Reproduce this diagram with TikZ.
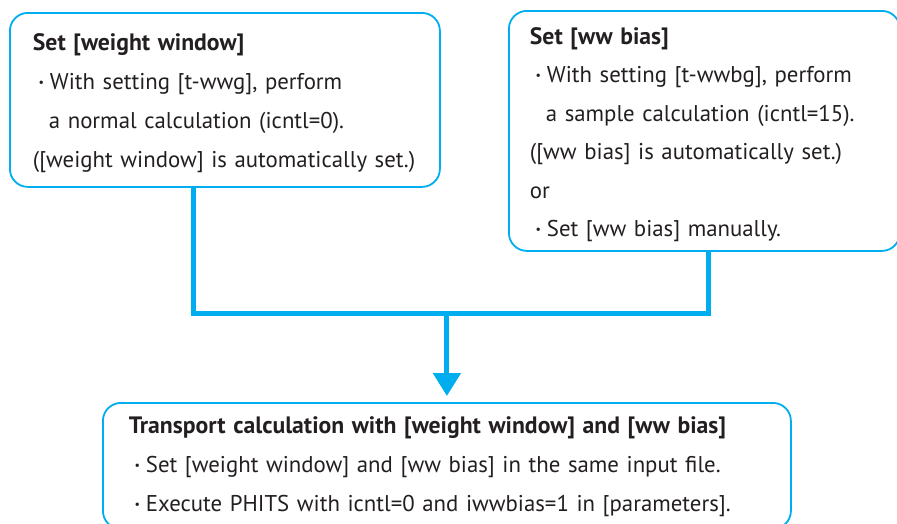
\documentclass[tikz,border=0pt]{standalone}
\usepackage{fontspec}
\setmainfont{PT Sans}
\usepackage{tikz}
\usetikzlibrary{arrows.meta,positioning,calc}
\definecolor{flow}{HTML}{00AEEF}
\definecolor{ink}{HTML}{231F20}
\newcommand{\bul}{\makebox[17pt][c]{\raisebox{3pt}{\fontsize{12}{12}\selectfont\textbullet}}}
\newcommand{\ind}{\hspace*{16pt}}
\newcommand{\boxtitle}[1]{{\fontsize{23.7}{39}\selectfont\bfseries #1}}

\begin{document}
\begin{tikzpicture}[x=1pt,y=-1pt,
   box/.style={draw=flow,line width=1.8pt,rounded corners=18pt,anchor=north west,
     align=left,inner ysep=0pt,text=ink,font=\fontsize{22.8}{39}\selectfont},
   link/.style={flow,line width=5pt,line join=miter}]
  \useasboundingbox (0,0) rectangle (897,523);
  % weight window box
  \node[box,inner xsep=23pt,text width=384pt] (wwin) at (9,12)
    {\rule{0pt}{38pt}\boxtitle{Set [weight window]}\\
     \bul With setting [t-wwg], perform\\
     \ind a normal calculation (icntl=0).\\
     ([weight window] is automatically set.)\rule[-19pt]{0pt}{19pt}};
  % ww bias box
  \node[box,inner xsep=21pt,text width=349pt,font=\fontsize{22.8}{38.5}\selectfont] (wwbias) at (508,10)
    {\rule{0pt}{33.5pt}\boxtitle{Set [ww bias]}\\
     \bul With setting [t-wwbg], perform\\
     \ind a sample calculation (icntl=15).\\
     ([ww bias] is automatically set.)\\
     or\\
     \bul Set [ww bias] manually.\rule[-14pt]{0pt}{14pt}};
  % transport box
  \node[box,inner xsep=26pt,text width=636pt] (transport) at (102,402)
    {\rule{0pt}{31pt}\boxtitle{Transport calculation with [weight window] and [ww bias]}\\
     \bul Set [weight window] and [ww bias] in the same input file.\\
     \bul Execute PHITS with icntl=0 and iwwbias=1 in [parameters].\rule[-17pt]{0pt}{17pt}};
  % connectors
  \coordinate (join) at (transport.north |- 0,313);
  \draw[link] ([xshift=-31pt]wwin.south) |- (join) -| ([xshift=4.5pt]wwbias.south);
  \draw[link,-{Triangle[width=27pt,length=23pt]}] (join) -- ([yshift=6pt]transport.north);
\end{tikzpicture}
\end{document}
